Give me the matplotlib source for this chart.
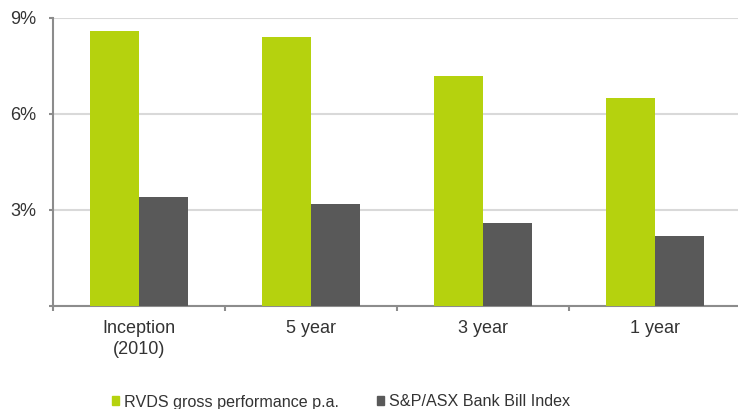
import numpy as np
import matplotlib
matplotlib.use("Agg")
import matplotlib.pyplot as plt
from matplotlib.patches import Patch

plt.rcParams['font.family'] = ['Liberation Sans', 'DejaVu Sans']

categories = ['Inception\n(2010)', '5 year', '3 year', '1 year']
rvds = [8.6, 8.4, 7.2, 6.5]
bank_bill = [3.4, 3.2, 2.6, 2.2]
series_names = ['RVDS gross performance p.a.', 'S&P/ASX Bank Bill Index']

green = '#B5D20E'
dark = '#595959'
axis_grey = '#8C8C8C'
text_col = '#333333'

fig = plt.figure(figsize=(7.38, 4.09), dpi=100)
ax = fig.add_axes([53 / 738, 103 / 409, 688 / 738, 288 / 409])

x = np.arange(len(categories))
w = 0.283
ax.bar(x - w / 2, rvds, width=w, color=green, zorder=3)
ax.bar(x + w / 2, bank_bill, width=w, color=dark, zorder=3)

ax.set_xlim(-0.5, len(categories) - 0.5)
ax.set_ylim(0, 9)
ax.set_yticks([0, 3, 6, 9])
ax.set_yticklabels(['', '3%', '6%', '9%'])
ax.yaxis.grid(True, color='#D9D9D9', linewidth=1.5, zorder=0)

ax.set_xticks(x)
ax.set_xticklabels(categories, linespacing=1.35)
ax.set_xticks(np.arange(len(categories) + 1) - 0.5, minor=True)
ax.tick_params(axis='x', which='major', length=0, pad=10, labelsize=13, colors=text_col)
ax.tick_params(axis='x', which='minor', length=3.5, width=1.5, color=axis_grey, direction='out')
ax.tick_params(axis='y', length=3, width=1.5, color=axis_grey, labelsize=13, labelcolor=text_col, pad=9)

for s in ['top', 'right']:
    ax.spines[s].set_visible(False)
for s in ['left', 'bottom']:
    ax.spines[s].set_color(axis_grey)
    ax.spines[s].set_linewidth(1.5)

handles = [Patch(color=green), Patch(color=dark)]
fig.legend(handles, series_names, loc='center left', ncol=2,
           bbox_to_anchor=(112 / 738, 1 - 402 / 409), frameon=False,
           borderpad=0, borderaxespad=0, handlelength=0.45, handleheight=0.45,
           handletextpad=0.3, columnspacing=2.35, fontsize=11.6, labelcolor=text_col)

fig.savefig('out.png', dpi=100)
